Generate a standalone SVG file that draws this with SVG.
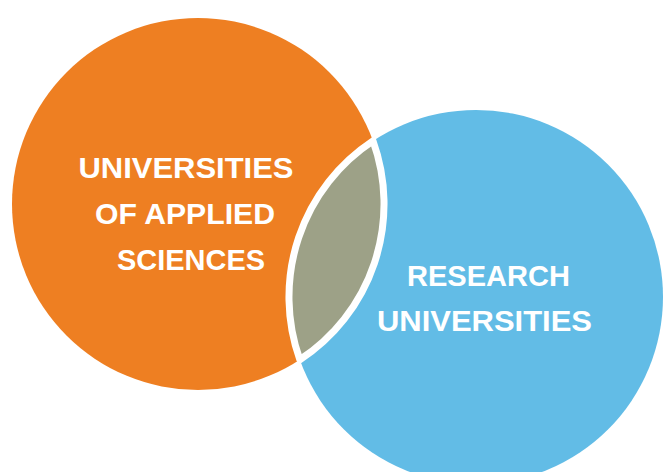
<svg xmlns="http://www.w3.org/2000/svg" width="663" height="472" viewBox="0 0 663 472">
<style>
.lbl{font-family:"Liberation Sans",Arial,sans-serif;font-weight:bold;font-size:30px;fill:#ffffff}
</style>
<rect width="663" height="472" fill="#ffffff"/>
<g id="applied">
<circle cx="198" cy="204" r="186" fill="#EE7F22"/>
<text class="lbl" x="78.5" y="178" textLength="215" lengthAdjust="spacingAndGlyphs">UNIVERSITIES</text>
<text class="lbl" x="95" y="224" textLength="180" lengthAdjust="spacingAndGlyphs">OF APPLIED</text>
<text class="lbl" x="117" y="269.5" textLength="148" lengthAdjust="spacingAndGlyphs">SCIENCES</text>
</g>
<g id="research">
<circle cx="476" cy="297" r="187" fill="#62BCE6"/>
<text class="lbl" x="407" y="286" textLength="163" lengthAdjust="spacingAndGlyphs">RESEARCH</text>
<text class="lbl" x="377" y="331" textLength="215" lengthAdjust="spacingAndGlyphs">UNIVERSITIES</text>
</g>
<g id="overlap">
<path d="M373,140.9 A187,187 0 0 0 299.8,359.7 A186,186 0 0 0 373,140.9 Z" fill="#9DA187" stroke="#ffffff" stroke-width="7" stroke-linejoin="round"/>
</g>
</svg>
